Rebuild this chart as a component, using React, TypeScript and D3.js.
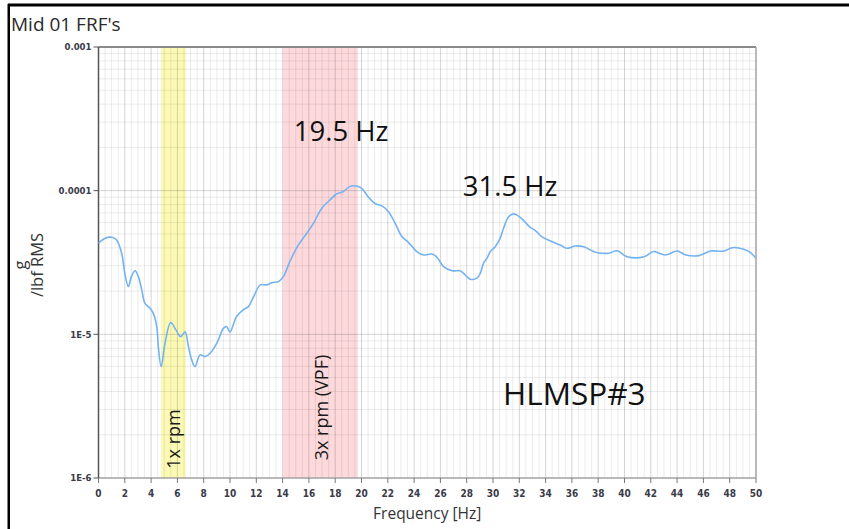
import React from "react";
import * as d3 from "d3";

// Mid 01 FRF magnitude, g / lbf RMS versus frequency
const freqHz = [
  0, 0.5, 1.0, 1.38, 1.76, 2.0, 2.27, 2.5, 2.78, 3.03, 3.29, 3.54, 3.92, 4.17, 4.43, 4.55, 4.76,
  5.06, 5.49, 5.9, 6.25, 6.58, 6.84, 7.09, 7.34, 7.72, 8.1, 8.49, 9.0, 9.5, 9.75, 10.0, 10.5, 11.0,
  11.4, 11.8, 12.3, 12.8, 13.2, 13.7, 14.06, 14.57, 15.2, 15.84, 16.35, 16.98, 17.6, 18.1, 18.6,
  19.1, 19.6, 20.0, 20.5, 21.0, 21.55, 22.05, 22.56, 23.07, 23.58, 24.2, 24.7, 25.36, 25.74, 26.24,
  26.88, 27.5, 27.76, 28.27, 28.78, 29.03, 29.28, 29.54, 29.8, 30.17, 30.55, 30.8, 31.19, 31.57,
  31.8, 32.2, 32.84, 33.2, 33.7, 34.36, 35.1, 35.6, 36.26, 36.9, 37.8, 38.8, 39.44, 40.2, 41.5,
  42.2, 43.1, 44.0, 44.65, 45.66, 46.55, 47.55, 48.2, 49.07, 49.58, 50,
];
const magnitude = [
  4.31e-5, 4.67e-5, 4.74e-5, 4.54e-5, 3.67e-5, 2.66e-5, 2.15e-5, 2.52e-5, 2.77e-5, 2.52e-5, 2.04e-5,
  1.64e-5, 1.52e-5, 1.4e-5, 1.13e-5, 8.21e-6, 5.96e-6, 8.67e-6, 1.21e-5, 1.07e-5, 9.64e-6, 1.04e-5,
  8.21e-6, 6.64e-6, 5.96e-6, 7.19e-6, 7.0e-6, 7.38e-6, 8.67e-6, 1.1e-5, 1.13e-5, 1.04e-5, 1.33e-5,
  1.48e-5, 1.56e-5, 1.83e-5, 2.21e-5, 2.21e-5, 2.29e-5, 2.33e-5, 2.52e-5, 3.24e-5, 4.19e-5, 5.06e-5,
  5.93e-5, 7.55e-5, 8.61e-5, 9.48e-5, 9.84e-5, 1.067e-4, 1.079e-4, 1.04e-4, 9.08e-5, 8.17e-5,
  7.83e-5, 7.14e-5, 5.93e-5, 4.79e-5, 4.35e-5, 3.77e-5, 3.57e-5, 3.62e-5, 3.44e-5, 2.96e-5, 2.77e-5,
  2.77e-5, 2.66e-5, 2.42e-5, 2.46e-5, 2.66e-5, 3.13e-5, 3.39e-5, 3.77e-5, 4.07e-5, 4.67e-5, 5.47e-5,
  6.59e-5, 6.89e-5, 6.78e-5, 6.36e-5, 5.55e-5, 5.3e-5, 4.79e-5, 4.47e-5, 4.19e-5, 3.97e-5, 4.12e-5,
  4.07e-5, 3.73e-5, 3.67e-5, 3.82e-5, 3.47e-5, 3.47e-5, 3.77e-5, 3.57e-5, 3.8e-5, 3.57e-5, 3.53e-5,
  3.8e-5, 3.8e-5, 4.01e-5, 3.91e-5, 3.71e-5, 3.39e-5,
];

// Highlighted frequency bands
const bandNames = ["1x rpm", "3x rpm (VPF)"];
const bandStart = [4.76, 14.05];
const bandEnd = [6.64, 19.72];
const bandColors = ["#fbf9b4", "#fdd9dc"];

// Axis ticks
const xTicks = d3.range(0, 51, 2);
const yTicks = [1e-6, 1e-5, 1e-4, 1e-3];
const yTickLabels = ["1E-6", "1E-5", "0.0001", "0.001"];

// Peak annotations (text centre in data coordinates)
const peakLabels = ["19.5 Hz", "31.5 Hz"];
const peakLabelFreq = [18.45, 31.3];
const peakLabelValue = [2.22e-4, 9.19e-5];

const W = 849;
const H = 529;
const left = 98.5;
const right = 756;
const top = 47;
const bottom = 478;

const tickFont = "'DejaVu Sans Condensed', 'DejaVu Sans', sans-serif";
const textFont = "'Open Sans', 'Noto Sans', sans-serif";

export default function App() {
  const x = d3.scaleLinear().domain([0, 50]).range([left, right]);
  const y = d3.scaleLog().domain([1e-6, 1e-3]).range([bottom, top]);

  const minorX = d3.range(0, 50.01, 0.5).filter((v) => v % 2 !== 0);
  const minorY: number[] = [];
  for (let e = -6; e < -3; e++) {
    for (let m = 2; m <= 9; m++) minorY.push(m * Math.pow(10, e));
  }

  const pts = freqHz.map((f, i) => [f, magnitude[i]] as [number, number]);
  const line = d3
    .line<[number, number]>()
    .x((d) => x(d[0]))
    .y((d) => y(d[1]))
    .curve(d3.curveCatmullRom.alpha(0.5));

  const bandLabelBase = [180, 328];
  const bandLabelMid = [439, 407.5];

  return (
    <div style={{ position: "absolute", left: 0, top: 0, width: W, height: H, overflow: "hidden", background: "#fff" }}>
      <svg width={W} height={H} style={{ display: "block" }}>
        <rect x={0} y={0} width={W} height={H} fill="#fff" />
        {/* window frame */}
        <line x1={8} y1={5} x2={W} y2={5} stroke="#000" strokeWidth={3} />
        <line x1={8.75} y1={4} x2={8.75} y2={H} stroke="#000" strokeWidth={2.5} />

        <text x={11} y={31} fontFamily={textFont} fontSize={19} fill="#2a2a2a">
          Mid 01 FRF's
        </text>

        {/* bands */}
        {bandStart.map((b, i) => (
          <rect key={"band" + i} x={x(b)} y={top} width={x(bandEnd[i]) - x(b)} height={bottom - top} fill={bandColors[i]} />
        ))}

        {/* grid */}
        {minorX.map((v) => (
          <line key={"mx" + v} x1={x(v)} x2={x(v)} y1={top} y2={bottom} stroke="#000" strokeOpacity={0.08} />
        ))}
        {minorY.map((v) => (
          <line key={"my" + v} x1={left} x2={right} y1={y(v)} y2={y(v)} stroke="#000" strokeOpacity={0.08} />
        ))}
        {xTicks.map((v) => (
          <line key={"gx" + v} x1={x(v)} x2={x(v)} y1={top} y2={bottom} stroke="#000" strokeOpacity={0.17} />
        ))}
        {yTicks.map((v) => (
          <line key={"gy" + v} x1={left} x2={right} y1={y(v)} y2={y(v)} stroke="#000" strokeOpacity={0.17} />
        ))}

        {/* plot frame */}
        <line x1={left} x2={right} y1={top} y2={top} stroke="#8a8a8a" strokeWidth={2} />
        <line x1={right} x2={right} y1={top} y2={bottom} stroke="#a8a8a8" strokeWidth={1.5} />
        <line x1={left} x2={right} y1={bottom} y2={bottom} stroke="#a8a8a8" strokeWidth={1.5} />
        <line x1={left} x2={left} y1={top} y2={bottom} stroke="#555" strokeWidth={1.5} />

        {/* band labels */}
        {bandNames.map((n, i) => (
          <text
            key={"bl" + i}
            transform={`translate(${bandLabelBase[i]},${bandLabelMid[i]}) rotate(-90)`}
            textAnchor="middle"
            fontFamily={textFont}
            fontSize={18}
            fill="#1a1a1a"
          >
            {n}
          </text>
        ))}

        {/* FRF curve */}
        <path d={line(pts) || ""} fill="none" stroke="#74b3f2" strokeWidth={1.6} />

        {/* y axis ticks */}
        {yTicks.map((v, i) => (
          <g key={"yt" + v}>
            <line x1={left - 5} x2={left} y1={y(v)} y2={y(v)} stroke="#555" />
            <text x={left - 7} y={y(v)} dy="0.35em" textAnchor="end" fontFamily={tickFont} fontWeight="bold" fontSize={9.5} fill="#3a3a48">
              {yTickLabels[i]}
            </text>
          </g>
        ))}

        {/* x axis ticks */}
        {xTicks.map((v) => (
          <g key={"xt" + v}>
            <line x1={x(v)} x2={x(v)} y1={bottom} y2={bottom + 5} stroke="#777" />
            <text x={x(v)} y={497} textAnchor="middle" fontFamily={tickFont} fontWeight="bold" fontSize={10} fill="#3a3a48">
              {v}
            </text>
          </g>
        ))}

        {/* axis titles */}
        <text x={(left + right) / 2} y={519} textAnchor="middle" fontFamily={textFont} fontSize={15.5} fill="#333">
          Frequency [Hz]
        </text>
        <text transform="translate(26,265) rotate(-90)" textAnchor="middle" fontFamily={textFont} fontSize={16.5} fill="#333">
          g
        </text>
        <text transform="translate(43,265) rotate(-90)" textAnchor="middle" fontFamily={textFont} fontSize={16.5} fill="#333">
          /lbf RMS
        </text>

        {/* annotations */}
        {peakLabels.map((t, i) => (
          <text
            key={"pk" + i}
            x={x(peakLabelFreq[i])}
            y={y(peakLabelValue[i])}
            textAnchor="middle"
            fontFamily={textFont}
            fontSize={27.5}
            fill="#111"
          >
            {t}
          </text>
        ))}
        <text x={503} y={405} fontFamily={textFont} fontSize={31.5} fill="#111">
          HLMSP#3
        </text>
      </svg>
    </div>
  );
}
